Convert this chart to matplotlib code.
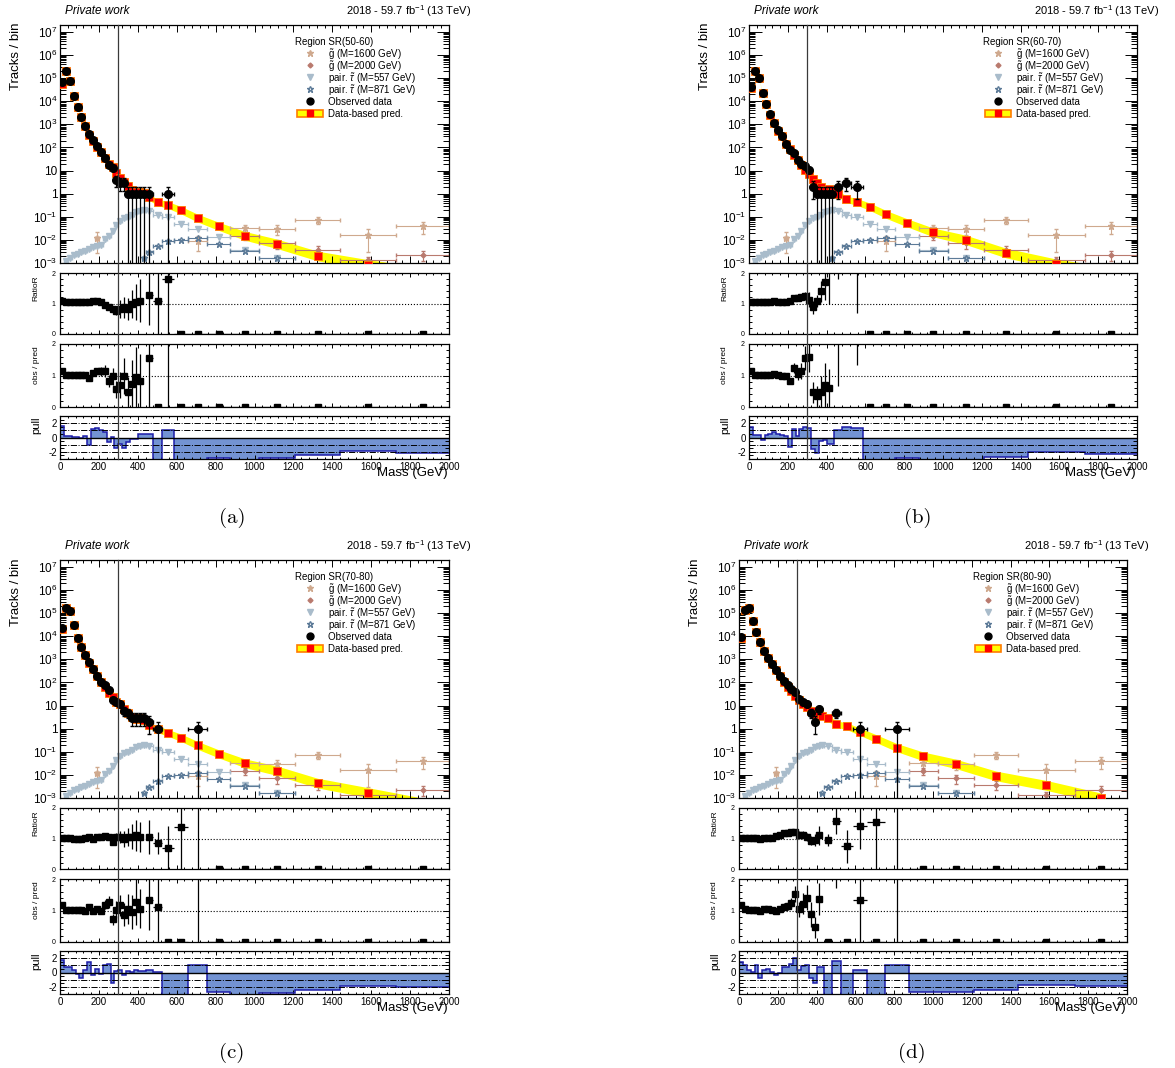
import numpy as np
import matplotlib
matplotlib.use("Agg")
import matplotlib.pyplot as plt
from matplotlib.lines import Line2D
from matplotlib.patches import Rectangle
from matplotlib.ticker import MultipleLocator, FixedLocator, LogLocator, FuncFormatter, NullFormatter
import matplotlib.transforms as mtransforms

plt.rcParams['font.family'] = ['Liberation Sans', 'DejaVu Sans']
plt.rcParams['mathtext.fontset'] = 'custom'
plt.rcParams['mathtext.rm'] = 'Liberation Sans'
plt.rcParams['mathtext.it'] = 'Liberation Sans:italic'
plt.rcParams['mathtext.bf'] = 'Liberation Sans:bold'
plt.rcParams['axes.unicode_minus'] = False

nan = np.nan

# ---------------- data ----------------
mass_edges = [0, 20, 40, 60, 80, 100, 120, 140, 160, 180, 200, 220, 240, 260, 280, 300, 320, 340,
              360, 380, 400, 420, 440, 478, 526, 588, 660, 755, 875, 1025, 1210, 1440, 1730, 2000]

# relative size of the uncertainty band on the prediction (shared by all regions)
pred_band = [0.03, 0.03, 0.03, 0.03, 0.03, 0.03, 0.04, 0.04, 0.05, 0.05, 0.06, 0.07, 0.08, 0.10,
             0.12, 0.15, 0.18, 0.21, 0.24, 0.27, 0.30, 0.32, 0.35, 0.38, 0.40, 0.45, 0.48, 0.50,
             0.55, 0.60, 0.62, 0.64, 0.65]

# signal samples (same in every region)
stau557 = [nan, 0.0012, 0.0017, 0.0023, 0.0024, 0.0030, 0.0034, 0.0041, 0.0047, 0.0054, 0.0061,
           0.011, 0.015, 0.025, 0.044, 0.067, 0.085, 0.10, 0.12, 0.16, 0.18, 0.19, 0.18, 0.12,
           0.094, 0.05, 0.03, 0.013, 0.0037, 0.0016, nan, nan, nan]
stau871 = [nan, nan, nan, nan, nan, nan, nan, nan, nan, nan, nan, nan, nan, nan, nan, nan, nan,
           nan, nan, nan, nan, 0.0016, 0.003, 0.0057, 0.0089, 0.010, 0.0125, 0.0065, 0.0032,
           0.0017, nan, nan, nan]
gluino1600 = [nan, nan, nan, nan, nan, nan, nan, nan, nan, 0.0126, nan, nan, nan, nan, nan, nan,
              nan, nan, nan, nan, nan, nan, nan, nan, nan, nan, 0.0093, nan, 0.032, 0.029, 0.072,
              0.016, 0.04]
gluino1600_err = [nan, nan, nan, nan, nan, nan, nan, nan, nan, 0.010, nan, nan, nan, nan, nan, nan,
                  nan, nan, nan, nan, nan, nan, nan, nan, nan, nan, 0.006, nan, 0.014, 0.013, 0.025,
                  0.013, 0.022]
gluino2000 = [nan, nan, nan, nan, nan, nan, nan, nan, nan, nan, nan, nan, nan, nan, nan, nan, nan,
              nan, nan, nan, nan, nan, nan, nan, nan, nan, nan, nan, 0.015, 0.007, 0.0037, 0.0013,
              0.0022]
gluino2000_err = [nan, nan, nan, nan, nan, nan, nan, nan, nan, nan, nan, nan, nan, nan, nan, nan, nan,
                  nan, nan, nan, nan, nan, nan, nan, nan, nan, nan, nan, 0.005, 0.003, 0.0015, 0.0006,
                  0.001]

# region SR(50-60)
obs_a = [65000, 210000, 77000, 17000, 5400, 2000, 850, 370, 205, 114, 65, 36, 18, 13, 4, 3, 3,
         1, 1, 1, 1, 1, 1, 0, 1, 0, 0, 0, 0, 0, 0, 0, 0]
pred_a = [55000, 210000, 77000, 17000, 5400, 2000, 820, 360, 190, 105, 62, 35, 20, 14, 7.5, 4.6,
          3.2, 2.2, 1.5, 1.2, 1.2, 1.1, 0.7, 0.42, 0.32, 0.19, 0.088, 0.039, 0.015, 0.0067, 0.002,
          0.00085, 0.0004]
obs_pred_a = [1.14, 1.02, 1.02, 1.02, 1.02, 1.02, 1.02, 0.91, 1.07, 1.14, 1.14, 1.14, 0.83, 0.98,
              0.56, 0.70, 0.98, 0.47, 0.74, 0.95, 0.84, nan, 1.55, 0, 3.1, 0, 0, 0, 0, 0, 0, 0, 0]
ratio_r_a = [1.07, 1.04, 1.04, 1.04, 1.04, 1.04, 1.04, 1.04, 1.09, 1.09, 1.04, 0.96, 0.87, 0.82,
             0.77, 0.82, 0.87, 0.82, 0.98, 1.05, 1.09, nan, 1.29, 1.09, 1.81, 0, 0, 0, 0, 0, 0, 0, 0]
ratio_r_err_a = [0.03, 0.03, 0.03, 0.03, 0.03, 0.03, 0.03, 0.03, 0.03, 0.03, 0.04, 0.05, 0.08, 0.10,
                 0.15, 0.30, 0.33, 0.35, 0.45, 0.60, 0.70, 0, 1.0, 1.1, 2.0, 0, 0, 0, 0, 0, 0, 0, 0]
pull_a = [1.6, 0.2, 0.2, 0.1, 0.1, -0.1, 0.2, -1.1, 1.2, 1.3, 1.0, 0.8, -0.6, 0.1, -1.5, -0.9, -1.4,
          -0.6, -0.2, -0.2, 0.5, 0.5, 0.5, -3.5, 1.0, -3.5, -3.5, -2.8, -3.5, -2.9, -2.5, -1.9, -2.1]

# region SR(60-70)
obs_b = [41000, 210000, 100000, 23000, 7400, 2700, 1200, 550, 300, 140, 77, 57, 29, 19, 16, 11, 2,
         1, 1, 1, 1, 1, 2, 3, 2, 0, 0, 0, 0, 0, 0, 0, 0]
pred_b = [36000, 200000, 100000, 23000, 7400, 2600, 1150, 540, 300, 140, 90, 46, 28, 17, 10.3, 7.0,
          4.3, 2.9, 2.0, 1.45, 1.65, 1.3, 1.0, 0.57, 0.44, 0.27, 0.126, 0.055, 0.021, 0.01, 0.0027,
          0.0009, 0.0004]
obs_pred_b = [1.14, 1.02, 1.02, 1.02, 1.02, 1.02, 1.05, 1.02, 0.98, 0.98, 0.84, 1.23, 1.05, 1.14,
              1.55, 1.58, 0.47, 0.34, 0.49, 0.70, 0.60, nan, 2.3, 5.3, 4.5, 0, 0, 0, 0, 0, 0, 0, 0]
ratio_r_b = [1.05, 1.04, 1.04, 1.04, 1.04, 1.04, 1.07, 1.04, 1.04, 1.04, 1.07, 1.18, 1.18, 1.21,
             1.25, 1.13, 0.87, 1.09, 1.40, 1.70, 2.6, nan, 2.9, nan, 3.0, 0, 0, 0, 0, 0, 0, 0, 0]
ratio_r_err_b = [0.03, 0.03, 0.03, 0.03, 0.03, 0.03, 0.03, 0.03, 0.03, 0.03, 0.03, 0.08, 0.08, 0.10,
                 0.12, 0.25, 0.20, 0.20, 0.35, 0.60, 1.6, 0, 1.1, 0, 2.3, 0, 0, 0, 0, 0, 0, 0, 0]
pull_b = [1.5, 0.4, 0.3, -0.3, 0.4, 0.5, 0.8, 0.5, 0.4, 0.2, -1.3, 1.2, 0.2, 1.2, 1.4, 1.3, -1.6,
          -2.2, -0.5, -0.4, -0.9, -0.9, 1.0, 1.5, 1.3, -3.5, -3.5, -2.8, -3.5, -3.5, -2.7, -2.0, -2.3]

# region SR(70-80)
obs_c = [23000, 160000, 120000, 30000, 8700, 3300, 1500, 750, 370, 190, 110, 74, 45, 17, 15, 12, 6,
         5, 3, 3, 3, 3, 2, 1, 0, 0, 1, 0, 0, 0, 0, 0, 0]
pred_c = [20000, 160000, 120000, 30000, 8700, 3300, 1500, 700, 370, 185, 110, 62, 35, 24, 14.5,
          11.5, 7.2, 4.8, 3.3, 2.6, 2.8, 2.4, 1.4, 0.93, 0.65, 0.4, 0.19, 0.082, 0.032, 0.015,
          0.0044, 0.0017, 0.0006]
obs_pred_c = [1.17, 1.01, 1.01, 1.01, 1.01, 1.01, 0.98, 1.10, 0.98, 1.04, 0.98, 1.19, 1.28, 0.72,
              1.03, 1.16, 0.87, 1.06, 0.95, 1.27, 1.06, nan, 1.32, 1.12, 0, 0, 5.3, 0, 0, 0, 0, 0, 0]
ratio_r_c = [1.03, 1.03, 1.03, 1.00, 1.00, 1.00, 1.03, 1.06, 1.00, 1.05, 1.05, 1.09, 1.05, 0.90,
             1.05, 1.06, 0.98, 1.06, 1.06, 1.10, 1.05, nan, 1.05, 0.85, 0.69, 1.37, 4.0, 0, 0, 0, 0,
             0, 0]
ratio_r_err_c = [0.04, 0.04, 0.04, 0.04, 0.04, 0.04, 0.04, 0.04, 0.04, 0.04, 0.04, 0.04, 0.04, 0.08,
                 0.12, 0.20, 0.25, 0.30, 0.40, 0.50, 0.50, 0, 0.55, 0.35, 0.72, 1.4, 4.0, 0, 0, 0,
                 0, 0, 0]
pull_c = [1.7, 0.8, 0.7, 0.3, -0.2, -0.8, 0.4, 1.4, -0.4, 0.5, -0.2, 1.1, 1.2, -1.4, 0.2, 0.3, -0.3,
          0.2, 0.1, 0.4, 0.2, 0.2, 0.4, 0.1, -3.5, -3.5, 1.0, -2.7, -3.5, -2.9, -2.5, -1.9, -2.0]

# region SR(80-90)
obs_d = [9300, 140000, 160000, 45000, 15000, 5700, 2400, 1200, 630, 340, 190, 120, 74, 53, 39, 19,
         14, 12, 5, 2, 7, 0, 0, 5, 0, 1, 0, 1, 0, 0, 0, 0, 0]
pred_d = [8500, 140000, 160000, 45000, 15000, 5700, 2300, 1150, 620, 345, 185, 108, 65, 43, 26, 18,
          11.5, 8.5, 5.7, 4.3, 5.1, 3.5, 2.8, 1.6, 1.26, 0.74, 0.37, 0.15, 0.063, 0.03, 0.009,
          0.0035, 0.001]
obs_pred_d = [1.17, 1.06, 1.03, 1.01, 1.03, 0.99, 1.06, 1.04, 1.01, 0.98, 1.04, 1.12, 1.14, 1.24,
              1.52, 1.04, 1.22, 1.41, 0.88, 0.47, 1.36, nan, 0, 3.1, 0, 1.33, 0, 6.7, 0, 0, 0, 0, 0]
ratio_r_d = [1.03, 1.03, 1.03, 1.03, 1.03, 1.00, 1.03, 1.03, 1.03, 1.07, 1.12, 1.17, 1.19, 1.22,
             1.21, 1.13, 1.13, 1.05, 0.93, 0.95, 1.10, nan, 0.95, 1.59, 0.74, 1.42, 1.53, 4.0, 0, 0,
             0, 0, 0]
ratio_r_err_d = [0.03, 0.03, 0.03, 0.03, 0.03, 0.03, 0.03, 0.03, 0.03, 0.04, 0.05, 0.06, 0.07, 0.08,
                 0.10, 0.10, 0.10, 0.12, 0.15, 0.20, 0.30, 0, 0.20, 0.45, 0.55, 0.75, 1.6, 4.0, 0, 0,
                 0, 0, 0]
pull_d = [1.5, 1.1, 0.4, 0.1, 1.0, -0.7, 0.3, 0.5, 0.1, -0.3, 0.0, 0.8, 0.8, 1.2, 2.0, 0.4, 0.9,
          1.1, -0.8, -1.5, 0.8, 0.8, -3.5, 1.6, -3.5, 0.4, -3.5, 1.1, -2.7, -2.7, -2.4, -1.8, -1.9]

legend_labels = [r'$\tilde{\mathrm{g}}$ (M=1600 GeV)', r'$\tilde{\mathrm{g}}$ (M=2000 GeV)',
                 r'pair. $\tilde{\tau}$ (M=557 GeV)', r'pair. $\tilde{\tau}$ (M=871 GeV)',
                 'Observed data', 'Data-based pred.']

# ---------------- style ----------------
C_G1600 = '#cfa98e'
C_G2000 = '#b97a6e'
C_T557 = '#a9bccb'
C_T871 = '#5d7b98'
C_BAND = '#ffff00'
C_PULL = '#7393d3'
C_PULL_EDGE = '#1c1ca8'

W, H = 1175, 1068
fig = plt.figure(figsize=(W / 100, H / 100), dpi=100)
fig.patch.set_facecolor('white')

edges = np.array(mass_edges, dtype=float)
centers = 0.5 * (edges[1:] + edges[:-1])
halfw = 0.5 * np.diff(edges)


def log_label(v, pos):
    e = int(round(np.log10(v)))
    if e == 0:
        return '1'
    if e == 1:
        return '10'
    return r'$10^{%d}$' % e


def frame(ax, ymaj, ymin, xmaj, xmin):
    ax.set_xlim(0, 2000)
    ax.xaxis.set_major_locator(MultipleLocator(200))
    ax.xaxis.set_minor_locator(MultipleLocator(40))
    ax.tick_params(which='both', direction='in', top=True, right=True, width=0.7, pad=2)
    ax.tick_params(axis='y', which='major', length=ymaj)
    ax.tick_params(axis='y', which='minor', length=ymin)
    ax.tick_params(axis='x', which='major', length=xmaj)
    ax.tick_params(axis='x', which='minor', length=xmin)
    for s in ax.spines.values():
        s.set_linewidth(0.9)


def draw_legend(ax, region):
    # ROOT-style legend box, rows 12 px apart
    def pos(px, py):
        return (px / 389.0, 1 - py / 238.0)

    ax.text(*pos(235, 16), 'Region ' + region, transform=ax.transAxes, fontsize=7,
            ha='left', va='center_baseline')
    styles = [('*', C_G1600, 4.5, 'full'), ('D', C_G2000, 2.5, 'full'),
              ('v', C_T557, 4.5, 'full'), ('*', C_T871, 4.5, 'none'),
              ('o', 'black', 5, 'full'), ('s', '#ff0000', 5, 'full')]
    for i, (label, (mk, col, ms, fs)) in enumerate(zip(legend_labels, styles)):
        py = 28 + 12 * i
        if i == len(styles) - 1:
            x0, y0 = pos(237, py + 3.5)
            x1, y1 = pos(263, py - 3.5)
            ax.add_patch(Rectangle((x0, y0), x1 - x0, y1 - y0, transform=ax.transAxes,
                                   facecolor=C_BAND, edgecolor='#ff7b00', lw=1.2, clip_on=False,
                                   zorder=5))
        ax.plot(*pos(250, py), marker=mk, color=col, ms=ms, fillstyle=fs, ls='none',
                transform=ax.transAxes, clip_on=False, zorder=6)
        ax.text(*pos(268, py), label, transform=ax.transAxes, fontsize=7, ha='left',
                va='center_baseline')


def draw_panel(left, right, dy, cap_x, tag, region, obs, pred, obs_pred, ratio_r, ratio_r_err, pull):
    def add(t, b):
        return fig.add_axes([left / W, 1 - (b + dy) / H, (right - left) / W, (b - t) / H])

    ax = add(25, 263)
    ar = add(273, 334)
    ao = add(344, 407)
    ap = add(416, 459)

    obs = np.array(obs, dtype=float)
    pred = np.array(pred, dtype=float)
    band = np.array(pred_band)

    # ---- main distribution ----
    ax.set_yscale('log')
    ax.set_ylim(1e-3, 2e7)
    frame(ax, 9, 4.5, 5, 2.5)
    ax.yaxis.set_major_locator(LogLocator(base=10, numticks=20))
    ax.yaxis.set_minor_locator(LogLocator(base=10, subs=np.arange(2, 10), numticks=200))
    ax.yaxis.set_major_formatter(FuncFormatter(log_label))
    ax.yaxis.set_minor_formatter(NullFormatter())
    ax.tick_params(axis='y', labelsize=8.5)
    ax.xaxis.set_major_formatter(NullFormatter())
    # the lowest label is partly hidden by the ratio pad, as in ROOT
    clip = mtransforms.TransformedBbox(
        mtransforms.Bbox([[0, 1 - (268 + dy) / H], [1, 1]]), fig.transFigure)
    for t in ax.yaxis.get_major_ticks():
        t.label1.set_clip_box(clip)
        t.label1.set_clip_on(True)

    ax.fill_between(centers, pred / (1 + band), pred * (1 + band), color=C_BAND, lw=0, zorder=1)
    ax.plot(centers, pred, 's', color='#ff0000', mec='#ff7b00', mew=0.6, ms=5.5, zorder=3)

    signals = [
        (gluino1600, gluino1600_err, '*', C_G1600, 4.5, 'full'),
        (gluino2000, gluino2000_err, 'D', C_G2000, 2.5, 'full'),
        (stau557, None, 'v', C_T557, 5, 'full'),
        (stau871, None, '*', C_T871, 4.5, 'none'),
    ]
    for vals, errs, mk, col, ms, fs in signals:
        vals = np.array(vals, dtype=float)
        m = np.isfinite(vals)
        yerr = None if errs is None else np.array(errs, dtype=float)[m]
        ax.errorbar(centers[m], vals[m], xerr=halfw[m], yerr=yerr, fmt=mk, color=col, ms=ms,
                    fillstyle=fs, elinewidth=0.8, capsize=1.2, zorder=2)

    m = obs > 0
    ax.errorbar(centers[m], obs[m], xerr=halfw[m], yerr=np.sqrt(obs[m]), fmt='o', color='black',
                ms=5.5, elinewidth=0.9, capsize=1.5, zorder=4)

    draw_legend(ax, region)

    # ---- RatioR ----
    rr = np.array(ratio_r, dtype=float)
    rre = np.array(ratio_r_err, dtype=float)
    frame(ar, 4, 2, 3, 1.5)
    ar.set_ylim(0, 2)
    ar.yaxis.set_major_locator(FixedLocator([0, 1, 2]))
    ar.yaxis.set_minor_locator(MultipleLocator(0.2))
    ar.tick_params(axis='y', labelsize=5, pad=3)
    ar.xaxis.set_major_formatter(NullFormatter())
    ar.axhline(1, ls=':', color='black', lw=0.8)
    m = np.isfinite(rr)
    ar.errorbar(centers[m], rr[m], xerr=halfw[m], yerr=rre[m], fmt='s', color='black', ms=4.2,
                elinewidth=0.9, capsize=0)

    # ---- obs / pred ----
    op = np.array(obs_pred, dtype=float)
    op_err = np.where(obs > 0, op / np.sqrt(np.where(obs > 0, obs, 1)), 0)
    frame(ao, 4, 2, 3, 1.5)
    ao.set_ylim(0, 2)
    ao.yaxis.set_major_locator(FixedLocator([0, 1, 2]))
    ao.yaxis.set_minor_locator(MultipleLocator(0.2))
    ao.tick_params(axis='y', labelsize=5, pad=3)
    ao.xaxis.set_major_formatter(NullFormatter())
    ao.axhline(1, ls=':', color='black', lw=0.8)
    m = np.isfinite(op)
    ao.errorbar(centers[m], op[m], xerr=halfw[m], yerr=op_err[m], fmt='s', color='black', ms=4.2,
                elinewidth=0.9, capsize=0)

    # ---- pull ----
    frame(ap, 5, 3, 3, 1.5)
    ap.set_ylim(-3, 3)
    ap.yaxis.set_major_locator(FixedLocator([-2, 0, 2]))
    ap.yaxis.set_minor_locator(MultipleLocator(0.5))
    ap.tick_params(axis='y', labelsize=7)
    ap.tick_params(axis='x', labelsize=7)
    ap.stairs(pull, edges, baseline=0, fill=True, color=C_PULL, lw=0, zorder=1)
    ap.stairs(pull, edges, baseline=None, color=C_PULL_EDGE, lw=1.1, zorder=2)
    for yl in (-2, -1, 1, 2):
        ap.axhline(yl, ls='-.', color='black', lw=0.7, zorder=3)
    ap.axhline(0, color='black', lw=1.0, zorder=3)

    # vertical marker line through all pads
    trans = mtransforms.blended_transform_factory(ap.transData, fig.transFigure)
    fig.add_artist(Line2D([300, 300], [1 - (459 + dy) / H, 1 - (25 + dy) / H], transform=trans,
                          color='#3a3a3a', lw=0.9))

    # ---- texts ----
    fig.text((left + 5) / W, 1 - (11 + dy) / H, 'Private work', style='italic', fontsize=8.5,
             ha='left', va='center')
    fig.text((right + 22) / W, 1 - (11 + dy) / H, r'2018 - 59.7 fb$^{-1}$ (13 TeV)', fontsize=8,
             ha='right', va='center')
    fig.text((left - 44) / W, 1 - (23 + dy) / H, 'Tracks / bin', rotation=90, fontsize=9.5,
             ha='center', va='top')
    fig.text((left - 24) / W, 1 - (275 + dy) / H, 'RatioR', rotation=90, fontsize=6,
             ha='center', va='top')
    fig.text((left - 24) / W, 1 - (346 + dy) / H, 'obs / pred', rotation=90, fontsize=6,
             ha='center', va='top')
    fig.text((left - 24) / W, 1 - (417 + dy) / H, 'pull', rotation=90, fontsize=8,
             ha='center', va='top')
    fig.text((right - 1) / W, 1 - (473 + dy) / H, 'Mass (GeV)', fontsize=9.5, ha='right',
             va='center')
    fig.text(cap_x / W, 1 - (518 + dy) / H, tag, family='cmr10', fontsize=15, ha='center',
             va='center')


draw_panel(60, 449, 0, 232, '(a)', 'SR(50-60)', obs_a, pred_a, obs_pred_a, ratio_r_a,
           ratio_r_err_a, pull_a)
draw_panel(749, 1137, 0, 918, '(b)', 'SR(60-70)', obs_b, pred_b, obs_pred_b, ratio_r_b,
           ratio_r_err_b, pull_b)
draw_panel(60, 449, 535, 232, '(c)', 'SR(70-80)', obs_c, pred_c, obs_pred_c, ratio_r_c,
           ratio_r_err_c, pull_c)
draw_panel(739, 1127, 535, 912, '(d)', 'SR(80-90)', obs_d, pred_d, obs_pred_d, ratio_r_d,
           ratio_r_err_d, pull_d)

fig.savefig('out.png', dpi=100, facecolor='white')
